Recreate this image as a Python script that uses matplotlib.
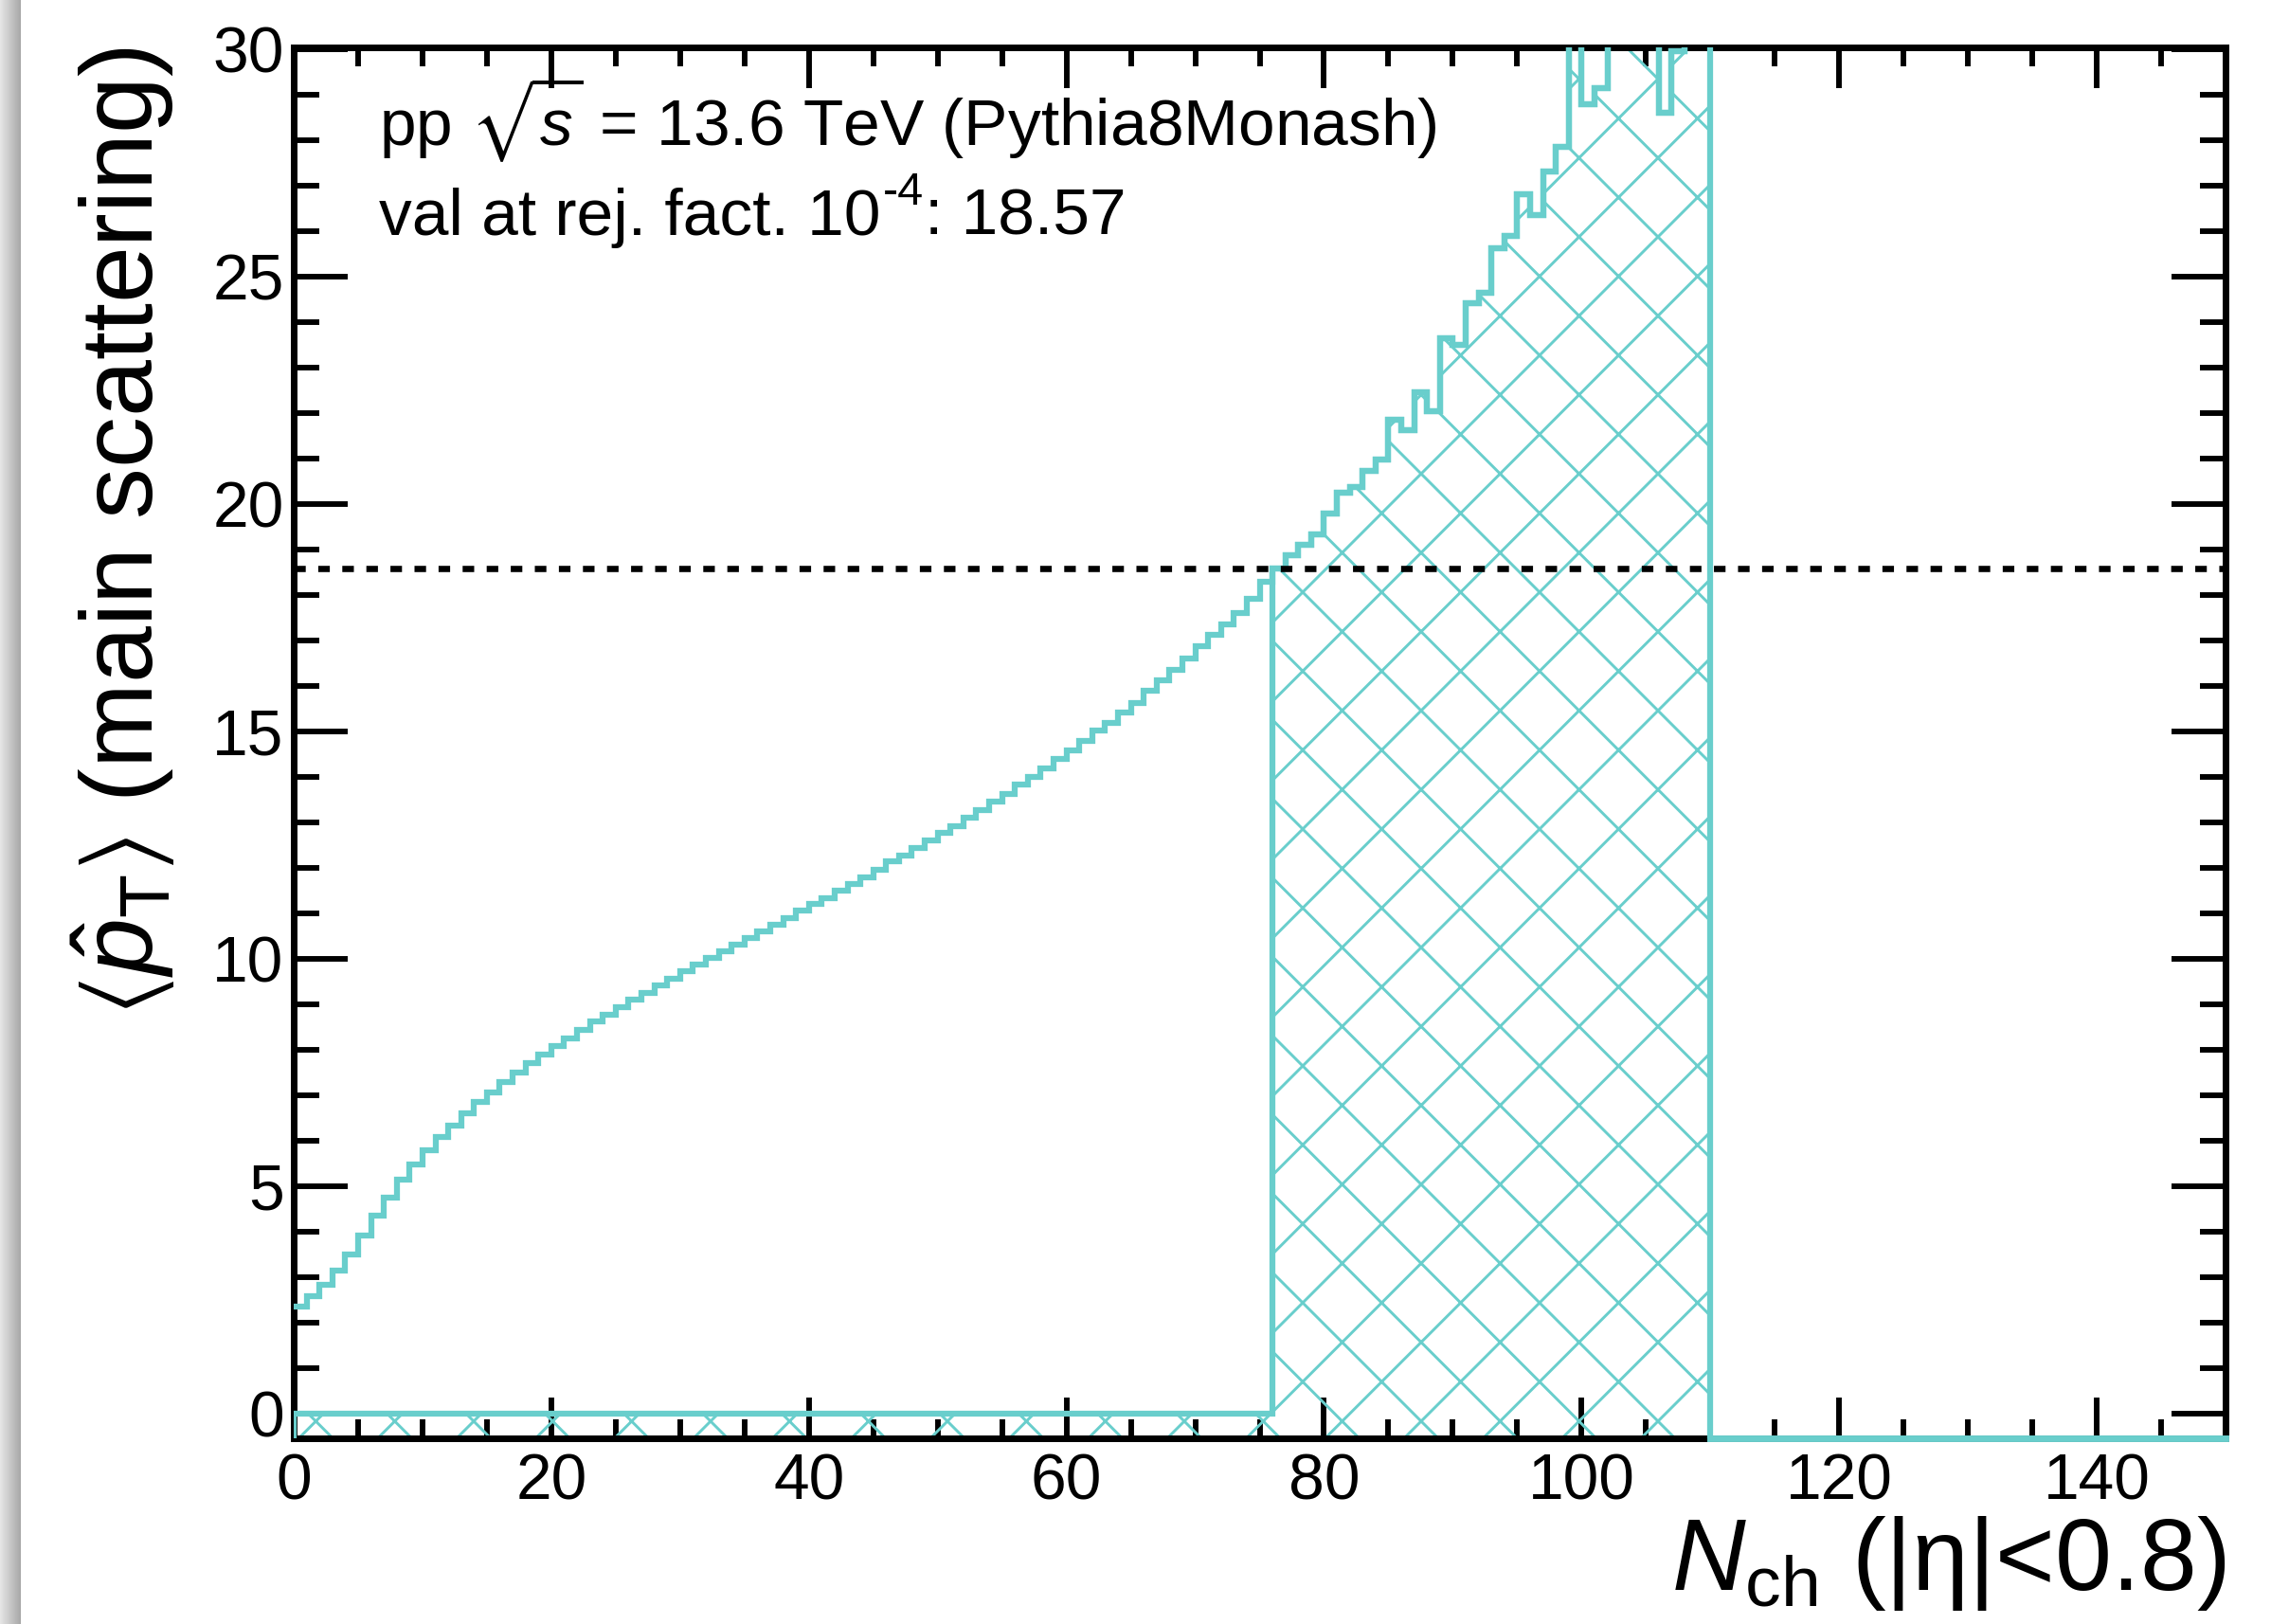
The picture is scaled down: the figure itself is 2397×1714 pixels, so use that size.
import numpy as np
import matplotlib
matplotlib.use("Agg")
import matplotlib.pyplot as plt

# mean pT-hat of the main scattering per N_ch bin (bins of width 1 from 0 to 110)
pt_hat = [
    2.35, 2.57, 2.83, 3.14, 3.50, 3.91, 4.34, 4.75, 5.13, 5.48,
    5.78, 6.07, 6.33, 6.59, 6.84, 7.06, 7.29, 7.49, 7.70, 7.89,
    8.08, 8.25, 8.43, 8.61, 8.77, 8.94, 9.10, 9.25, 9.41, 9.56,
    9.72, 9.87, 10.01, 10.16, 10.31, 10.45, 10.60, 10.74, 10.90, 11.05,
    11.20, 11.33, 11.49, 11.63, 11.79, 11.95, 12.13, 12.27, 12.43, 12.60,
    12.76, 12.92, 13.09, 13.27, 13.45, 13.63, 13.82, 14.00, 14.19, 14.40,
    14.57, 14.78, 15.01, 15.18, 15.41, 15.63, 15.89, 16.11, 16.35, 16.59,
    16.87, 17.13, 17.34, 17.60, 17.91, 18.29, 18.57, 18.87, 19.11, 19.33,
    19.78, 20.25, 20.37, 20.73, 20.97, 21.86, 21.62, 22.46, 22.03, 23.65,
    23.50, 24.41, 24.64, 25.62, 25.89, 26.82, 26.36, 27.32, 27.85, 31.0,
    28.79, 29.14, 31.5, 32.0, 31.2, 33.0, 28.60, 29.95, 32.5, 31.8,
]
nch_edges = np.arange(0, 151)
sel_first_bin = 76      # first bin above the cut
threshold = 18.57       # value at rejection factor 1e-4
x_ticks = [0, 20, 40, 60, 80, 100, 120, 140]
y_ticks = [0, 5, 10, 15, 20, 25, 30]

cyan = "#69cecc"
ymin, ymax = -0.55, 30.04

plt.rcParams["font.family"] = ["Liberation Sans", "DejaVu Sans"]
plt.rcParams["mathtext.fontset"] = "custom"
plt.rcParams["mathtext.rm"] = "Liberation Sans"
plt.rcParams["mathtext.it"] = "Liberation Sans:italic"
plt.rcParams["mathtext.bf"] = "Liberation Sans:bold"
plt.rcParams["mathtext.fallback"] = "stixsans"
plt.rcParams["hatch.color"] = cyan
plt.rcParams["hatch.linewidth"] = 0.85

W, H = 2397, 1714
fig = plt.figure(figsize=(W / 250, H / 250), dpi=250)
ax = fig.add_axes([310 / W, 1 - 1518 / H, (2349 - 310) / W, (1518 - 50) / H])

vals = np.array(pt_hat)
n_bins = len(vals)
edges = nch_edges[: n_bins + 1]
lw_hist = 1.8

# selected region: bins above the cut, hatched down to the frame
sel = vals.copy()
sel[:sel_first_bin] = 0.0
ax.fill_between(edges, ymin, np.append(sel, sel[-1]), step="post",
                facecolor="none", edgecolor=cyan, hatch="x", linewidth=0, zorder=2)
ax.stairs(sel, edges, baseline=ymin, color=cyan, lw=lw_hist, zorder=3)
ax.plot([edges[-1], nch_edges[-1]], [ymin, ymin], color=cyan, lw=2.0,
        clip_on=False, zorder=4)

# full profile
ax.stairs(vals, edges, baseline=None, color=cyan, lw=lw_hist, zorder=3)

ax.axhline(threshold, color="black", lw=1.9, ls=(0, (1.85, 2.0)), zorder=5)

ax.set_xlim(nch_edges[0], nch_edges[-1])
ax.set_ylim(ymin, ymax)
ax.set_xticks(x_ticks)
ax.set_yticks(y_ticks)
ax.set_xticks(np.arange(0, 151, 5), minor=True)
ax.set_yticks(np.arange(0, 31, 1), minor=True)

ax.tick_params(which="both", direction="in", top=True, right=True, width=1.7,
               labelsize=19.5, color="black")
ax.tick_params(axis="x", which="major", length=12.4, pad=4.3)
ax.tick_params(axis="x", which="minor", length=5.8)
ax.tick_params(axis="y", which="major", length=16.4, pad=3)
ax.tick_params(axis="y", which="minor", length=7.8)
for sp in ax.spines.values():
    sp.set_linewidth(2.0)

fig.text(400 / W, 1 - 153 / H, r"pp $\sqrt{s}$ = 13.6 TeV (Pythia8Monash)",
         fontsize=20, ha="left", va="baseline")

# second line: "10" with a raised "-4" exponent (plain hyphen), then the value
t_base = fig.text(400 / W, 1 - 248 / H, "val at rej. fact. 10",
                  fontsize=20, ha="left", va="baseline")
fig.canvas.draw()
bb = t_base.get_window_extent()
t_exp = fig.text((bb.x1 + 2) / W, 1 - 216 / H, "-4", fontsize=14,
                 ha="left", va="baseline")
fig.canvas.draw()
bb_exp = t_exp.get_window_extent()
fig.text((bb_exp.x1 + 1) / W, 1 - 248 / H, f": {threshold:.2f}",
         fontsize=20, ha="left", va="baseline")

fig.text(130 / W, 1 - 50 / H,
         r"$\left\langle\hat{p}_{\mathrm{T}}\right\rangle$ (main scattering)",
         fontsize=31, rotation=90, ha="center", va="top")
fig.text(2349 / W, 1 - 1678 / H, r"$N_{\mathrm{ch}}$ (|η|<0.8)",
         fontsize=31, ha="right", va="baseline")

# soft shadow along the left page edge
sh = fig.add_axes([0, 0, 22 / W, 1])
sh.imshow(np.linspace(0.9, 0.66, 32)[None, :], cmap="gray", vmin=0, vmax=1,
          aspect="auto", extent=[0, 1, 0, 1])
sh.set_axis_off()

fig.savefig("out.png", dpi=250)
